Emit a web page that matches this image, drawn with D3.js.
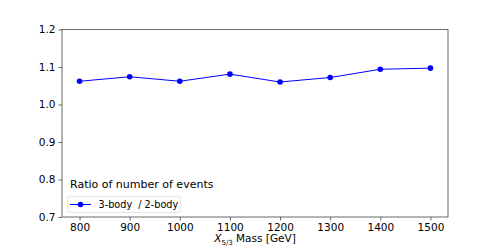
<!DOCTYPE html>
<html>
<head>
<meta charset="utf-8">
<script src="https://cdn.jsdelivr.net/npm/d3@7"></script>
<style>
  body { margin: 0; background: #fff; }
  text { font-family: "DejaVu Sans", sans-serif; fill: #000; }
</style>
</head>
<body>
<div class="chart"></div>
<script>
// masses and ratio values
var masses = [800, 900, 1000, 1100, 1200, 1300, 1400, 1500];
var ratios = [1.062, 1.074, 1.062, 1.081, 1.060, 1.072, 1.094, 1.097];
var xTicks = [800, 900, 1000, 1100, 1200, 1300, 1400, 1500];
var yTicks = [0.7, 0.8, 0.9, 1.0, 1.1, 1.2];
var seriesLabel = "3-body  / 2-body";
var legendTitle = "Ratio of number of events";

var svgWidth = 498, svgHeight = 249;
var margin = { top: 29.5, right: 50, bottom: 32, left: 62 };
var chart_width = svgWidth - margin.left - margin.right,
    chart_height = svgHeight - margin.top - margin.bottom;

var svg = d3.select(".chart")
  .append("svg")
  .attr("width", svgWidth)
  .attr("height", svgHeight);

var g = svg.append("g")
  .attr("transform", "translate(" + margin.left + "," + margin.top + ")");

var x = d3.scaleLinear().domain([765, 1535]).range([0, chart_width]);
var y = d3.scaleLinear().domain([0.7, 1.2]).range([chart_height, 0]);

// axes
var xAxis = g.append("g")
  .attr("transform", "translate(0," + chart_height + ")")
  .call(d3.axisBottom(x).tickValues(xTicks).tickSize(3.5).tickPadding(3).tickFormat(d3.format("d")));
var yAxis = g.append("g")
  .call(d3.axisLeft(y).tickValues(yTicks).tickSize(3.5).tickPadding(3).tickFormat(d3.format(".1f")));

[xAxis, yAxis].forEach(function (a) {
  a.select(".domain").remove();
  a.selectAll("line").attr("stroke", "#444").attr("stroke-width", 0.8);
  a.selectAll("text").style("font-family", "DejaVu Sans").style("font-size", "10.5px").attr("fill", "#000");
});

// frame
g.append("rect")
  .attr("width", chart_width)
  .attr("height", chart_height)
  .attr("fill", "none")
  .attr("stroke", "#444")
  .attr("stroke-width", 0.8);

var data = masses.map(function (m, i) { return { m: m, r: ratios[i] }; });

g.append("path")
  .datum(data)
  .attr("fill", "none")
  .attr("stroke", "#0000ff")
  .attr("stroke-width", 1)
  .attr("d", d3.line().x(function (d) { return x(d.m); }).y(function (d) { return y(d.r); }));

g.selectAll(".pt")
  .data(data)
  .enter()
  .append("circle")
  .attr("class", "pt")
  .attr("cx", function (d) { return x(d.m); })
  .attr("cy", function (d) { return y(d.r); })
  .attr("r", 2.8)
  .attr("fill", "#0000ff");

// legend
var lg = svg.append("g");
lg.append("text")
  .attr("x", 70)
  .attr("y", 187.5)
  .style("font-size", "11px")
  .text(legendTitle);
lg.append("rect")
  .attr("x", 67.5)
  .attr("y", 196.5)
  .attr("width", 113)
  .attr("height", 16)
  .attr("rx", 2)
  .attr("fill", "#fff")
  .attr("fill-opacity", 0.8)
  .attr("stroke", "#ddd")
  .attr("stroke-width", 0.8);
lg.append("line")
  .attr("x1", 70).attr("x2", 91)
  .attr("y1", 204.5).attr("y2", 204.5)
  .attr("stroke", "#0000ff").attr("stroke-width", 1);
lg.append("circle")
  .attr("cx", 80.5).attr("cy", 204.5).attr("r", 2.8)
  .attr("fill", "#0000ff");
lg.append("text")
  .attr("x", 98.5)
  .attr("y", 208)
  .style("font-size", "9.7px")
  .style("white-space", "pre")
  .attr("xml:space", "preserve")
  .text(seriesLabel);

// x label with subscript
var xl = svg.append("text")
  .attr("x", margin.left + chart_width / 2)
  .attr("y", 242)
  .attr("text-anchor", "middle")
  .style("font-size", "10.5px");
xl.append("tspan").style("font-style", "italic").text("X");
xl.append("tspan").attr("dy", 2.5).style("font-size", "7px").text("5/3");
xl.append("tspan").attr("dy", -2.5).text(" Mass [GeV]");
</script>
</body>
</html>
